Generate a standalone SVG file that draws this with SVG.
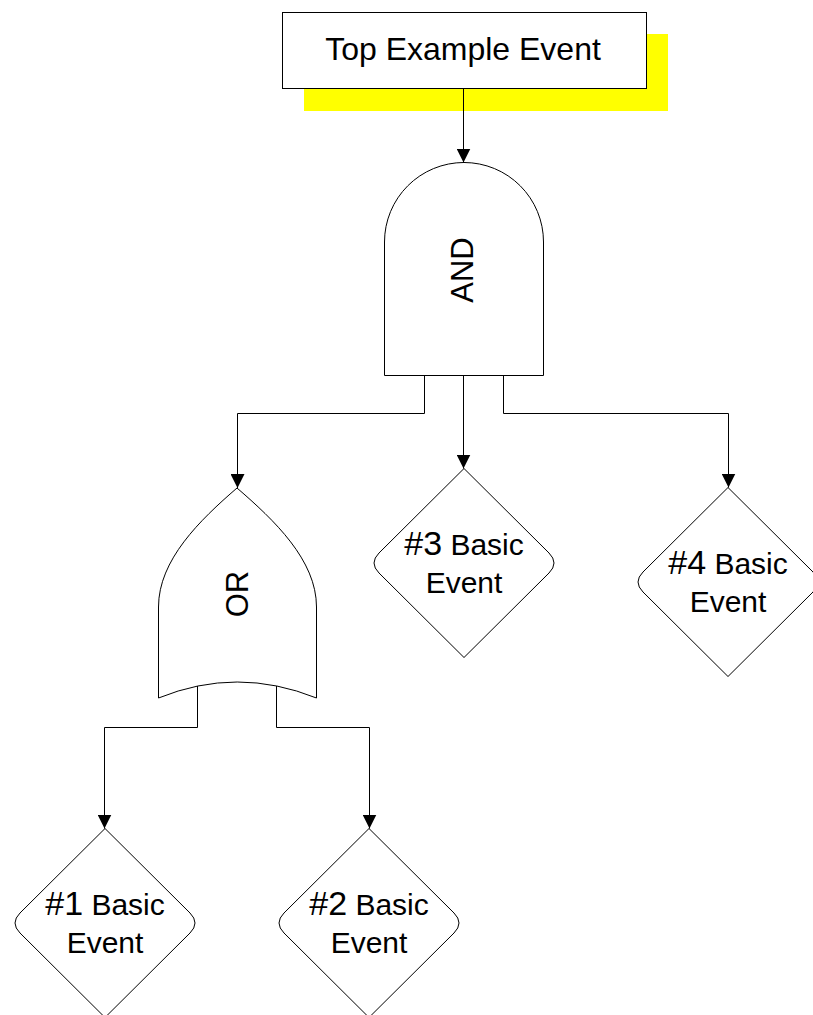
<svg xmlns="http://www.w3.org/2000/svg" width="813" height="1015" viewBox="0 0 813 1015">
  <defs>
    <style>
      .shape { fill: #ffffff; stroke: #000000; stroke-width: 1; }
      .wire { fill: none; stroke: #000000; stroke-width: 1; }
      .label { font-family: "Liberation Sans", Arial, sans-serif; fill: #000000; text-anchor: middle; }
      .big { font-size: 32px; }
      .gate { font-size: 31px; }
      .ev { font-size: 30px; }
      .num { font-size: 34px; }
    </style>
    <!-- filled arrowhead, drawn pointing along +x so orient="auto" follows the wire -->
    <marker id="arrow" markerUnits="userSpaceOnUse" markerWidth="15" markerHeight="14" refX="14" refY="7" orient="auto" viewBox="0 0 15 14">
      <path d="M0,0 L14,7 L0,14 Z" fill="#000000"/>
    </marker>
  </defs>
  <rect width="813" height="1015" fill="#ffffff"/>

  <!-- top event with yellow shadow -->
  <g id="top-event">
    <rect x="304" y="34" width="364" height="77" fill="#ffff00"/>
    <rect class="shape" x="282.5" y="12.5" width="364" height="76"/>
    <text class="label big" x="463" y="60">Top Example Event</text>
  </g>

  <!-- AND gate -->
  <g id="and-gate">
    <path class="shape" d="M384.5,375.5 L384.5,242 A79.5,79.5 0 0 1 543.5,242 L543.5,375.5 Z"/>
    <text class="label gate" transform="translate(473,270) rotate(-90)">AND</text>
  </g>

  <!-- OR gate -->
  <g id="or-gate">
    <path class="shape" d="M237,488 C200,520 158.5,560 158.5,607 L158.5,698 Q237,666 316.5,698 L316.5,607 C316.5,560 274,520 237,488 Z"/>
    <text class="label gate" transform="translate(248,594) rotate(-90)">OR</text>
  </g>

  <!-- basic events -->
  <g id="basic-event-3">
    <path class="shape" d="M464,468.5 L549,553 Q559,563 549,573 L464,657.5 L379,573 Q369,563 379,553 Z"/>
    <text class="label ev" x="464" y="555"><tspan class="num">#3</tspan> Basic</text>
    <text class="label ev" x="464" y="593">Event</text>
  </g>

  <g id="basic-event-4">
    <path class="shape" d="M728,487.5 L813,572 Q823,582 813,592 L728,676.5 L643,592 Q633,582 643,572 Z"/>
    <text class="label ev" x="728" y="574"><tspan class="num">#4</tspan> Basic</text>
    <text class="label ev" x="728" y="612">Event</text>
  </g>

  <g id="basic-event-1">
    <path class="shape" d="M105,828.5 L190,913 Q200,923 190,933 L105,1017.5 L20,933 Q10,923 20,913 Z"/>
    <text class="label ev" x="105" y="915"><tspan class="num">#1</tspan> Basic</text>
    <text class="label ev" x="105" y="953">Event</text>
  </g>

  <g id="basic-event-2">
    <path class="shape" d="M369,828.5 L454,913 Q464,923 454,933 L369,1017.5 L284,933 Q274,923 284,913 Z"/>
    <text class="label ev" x="369" y="915"><tspan class="num">#2</tspan> Basic</text>
    <text class="label ev" x="369" y="953">Event</text>
  </g>

  <!-- connectors -->
  <g id="connectors">
    <path class="wire" d="M463.5,88.5 L463.5,162.5" marker-end="url(#arrow)"/>
    <path class="wire" d="M424.5,375.5 L424.5,413.5 L237.5,413.5 L237.5,488" marker-end="url(#arrow)"/>
    <path class="wire" d="M463.5,375.5 L463.5,468.5" marker-end="url(#arrow)"/>
    <path class="wire" d="M503.5,375.5 L503.5,413.5 L728.5,413.5 L728.5,487.5" marker-end="url(#arrow)"/>
    <path class="wire" d="M197.5,686 L197.5,727.5 L104.5,727.5 L104.5,828.5" marker-end="url(#arrow)"/>
    <path class="wire" d="M276.5,686 L276.5,727.5 L369.5,727.5 L369.5,828.5" marker-end="url(#arrow)"/>
  </g>
</svg>
